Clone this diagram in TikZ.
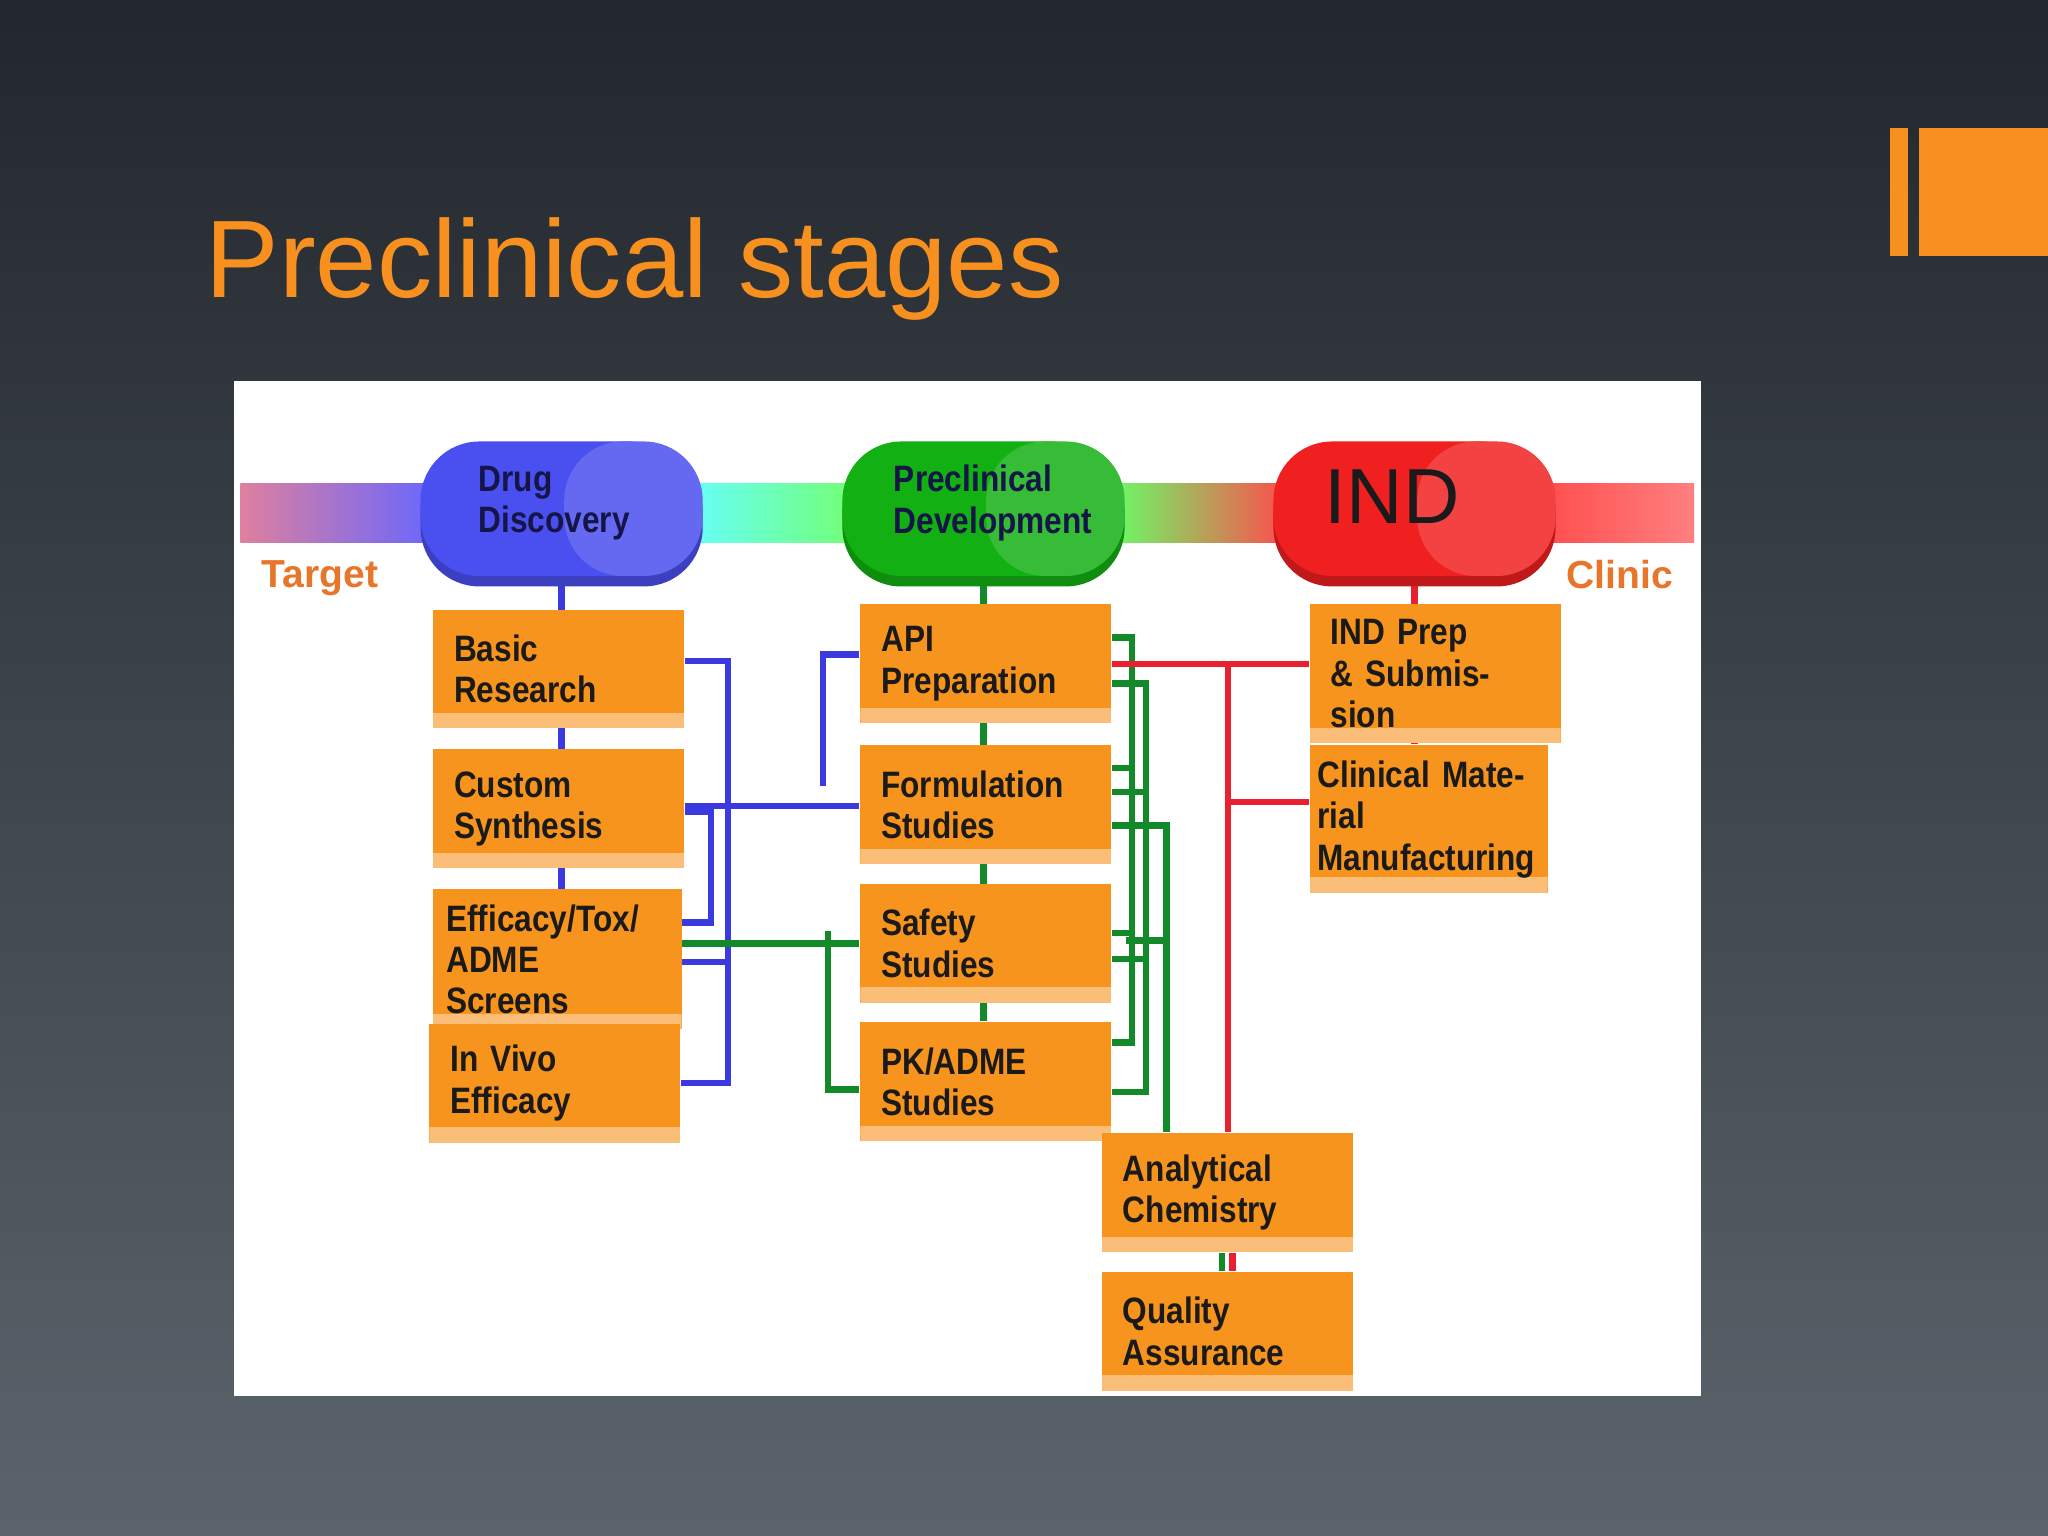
\documentclass[tikz,border=0pt]{standalone}
\usepackage{fontspec}
\setmainfont{Liberation Sans}
\newfontfamily\bx{Liberation Sans}[FakeStretch=0.86]
\usetikzlibrary{calc}
\pgfdeclarelayer{back}\pgfdeclarelayer{mid}\pgfsetlayers{back,mid,main}
\definecolor{bgtop}{HTML}{22272D}\definecolor{bgbot}{HTML}{5B646C}
\definecolor{ttl}{HTML}{F7901E}\definecolor{org}{HTML}{F7941D}\definecolor{orgl}{HTML}{FBBE78}
\definecolor{lb}{HTML}{3A3AE0}\definecolor{lg}{HTML}{138A2A}\definecolor{lr}{HTML}{E82030}
\definecolor{tlab}{HTML}{E8762A}\definecolor{ink}{HTML}{1A1A1A}
\tikzset{
 box/.style={fill=org,anchor=north west,minimum width=1.78cm,minimum height=0.91cm,text width=1.6cm,align=left,inner xsep=0.16cm,font=\bx\bfseries\fontsize{8}{9}\selectfont,text=ink,
  path picture={\fill[orgl] (path picture bounding box.south west) rectangle ([yshift=0.12cm]path picture bounding box.south east);}},
 pilltext/.style={font=\bx\bfseries\fontsize{8}{9}\selectfont,text=ink!80!blue,align=left,anchor=west},
 bl/.style={draw=lb,line width=1.4pt},gl/.style={draw=lg,line width=1.4pt},rl/.style={draw=lr,line width=1.4pt},
 lbl/.style={font=\bfseries\fontsize{8.5}{10}\selectfont,text=tlab}
}
\begin{document}
\begin{tikzpicture}[x=0.01cm,y=-0.01cm]
\begin{pgfonlayer}{back}
\shade[top color=bgtop,bottom color=bgbot] (0,0) rectangle (1568,1176);
\fill[ttl] (1447,98) rectangle (1461,196);
\fill[ttl] (1469,98) rectangle (1568,196);
\fill[white] (179,292) rectangle (1302,1069);
\shade[left color=purple!50!white,right color=blue!60!white] (184,370) rectangle (335,415);
\shade[left color=cyan!60!white,right color=green!55!white] (525,370) rectangle (655,415);
\shade[left color=green!60!white,middle color=yellow!80!white,right color=red!70!white] (850,370) rectangle (985,415);
\shade[left color=red!70!white,right color=red!50!white] (1180,370) rectangle (1297,415);
\end{pgfonlayer}
\useasboundingbox (0,0) rectangle (1568,1176);
\node[anchor=base west,text=ttl,font=\fontsize{24}{28}\selectfont] (title) at (145,228) {Preclinical stages};
% pills
\foreach \x/\c/\n in {322/4A4FF0/dd,645/12B012/pd,975/F02020/ip}{
 \definecolor{pc}{HTML}{\c}
 \fill[pc!80!black,rounded corners=0.45cm] (\x,346) rectangle ({\x+216},449);
 \fill[pc,rounded corners=0.45cm] (\x,338) rectangle ({\x+205},441);
 \fill[pc!85!white,rounded corners=0.45cm] ({\x+110},338) rectangle ({\x+216},441);
 \coordinate (\n) at ({\x+108},448);
}
\node[pilltext] (ddt) at (354,385) {Drug\\Discovery};
\node[pilltext] (pdt) at (672,385) {Preclinical\\Development};
\node[anchor=west,font=\fontsize{17}{20}\selectfont,text=ink] (ipt) at (1002,380) {IND};
\node[lbl] (tg) at (245,443) {Target};
\node[lbl] (cl) at (1240,440) {Clinic};
% boxes
\node[box] (bas) at (331,466) {Basic\\Research};
\node[box] (cus) at (331,573) {Custom\\Synthesis};
\node[box,inner xsep=0.1cm,text width=1.7cm] (eff) at (331,680) {Efficacy/Tox/\\ADME Screens};
\node[box] (inv) at (328,783) {In Vivo\\Efficacy};
\node[box] (api) at (658,462) {API\\Preparation};
\node[box] (frm) at (658,570) {Formulation\\Studies};
\node[box] (saf) at (658,676) {Safety\\Studies};
\node[box] (pk) at (658,782) {PK/ADME\\Studies};
\node[box] (ind) at (1002,462) {IND Prep\\\& Submission};
\node[box,inner xsep=0.06cm,text width=1.7cm] (cli) at (1002,570) {Clinical Material\\Manufacturing};
\node[box] (ana) at (843,867) {Analytical\\Chemistry};
\node[box] (qa) at (843,973) {Quality\\Assurance};
\begin{pgfonlayer}{mid}
\draw[bl] (dd) -- (dd |- inv.north);
\draw[gl] (pd) -- (pd |- pk.north);
\draw[rl] (ip) -- (ip |- cli.north);
\draw[gl] ([xshift=-0.04cm]qa.north) -- ([xshift=-0.04cm]ana.south);
\draw[rl] ([xshift=0.04cm]qa.north) -- ([xshift=0.04cm]ana.south);
% blue
\draw[bl] ([yshift=0.06cm]bas.east) -- ++(33,0) |- (inv.east);
\draw[bl] ([yshift=0.02cm]cus.east) -- ([yshift=0.02cm]cus.east -| frm.west);
\coordinate (bj) at (630,602);
\draw[bl] (bj) |- ([yshift=0.07cm]api.west);
\draw[bl] ([yshift=-0.02cm]cus.east) -- ++(20,0) |- ([yshift=0.28cm]eff.east);
\draw[bl] ([yshift=-0.02cm]eff.east) -- ++(33,0);
% green
\draw[gl] ([yshift=0.12cm]eff.east) -- ([yshift=0.12cm]eff.east -| saf.west);
\coordinate (gj) at (634,713);
\draw[gl] (gj) |- ([yshift=-0.06cm]pk.west);
\draw[gl] ([yshift=0.2cm]api.east) -- ++(15,0) |- ([yshift=0.3cm]pk.east);
\draw[gl] ([yshift=0.28cm]frm.east) -- ++(15,0);
\draw[gl] ([yshift=0.08cm]saf.east) -- ++(15,0);
\draw[gl] ([yshift=-0.15cm]api.east) -- ++(26,0) |- ([yshift=-0.08cm]pk.east);
\draw[gl] ([yshift=0.1cm]frm.east) -- ++(26,0);
\draw[gl] ([yshift=-0.12cm]saf.east) -- ++(26,0);
\coordinate (g3) at (851,632);
\draw[gl] (g3) -- ++(42,0) -- (893,0 |- ana.north);
\coordinate (g4) at (862,720);
\draw[gl] (g4) -- ++(31,0);
% red
\draw[rl] (api.east) -- (api.east -| ind.west);
\coordinate (rj) at (940,507);
\draw[rl] (rj) -- (rj |- ana.north);
\draw[rl] (940,614) -- (940,614 -| cli.west);
\end{pgfonlayer}
\end{tikzpicture}
\end{document}
